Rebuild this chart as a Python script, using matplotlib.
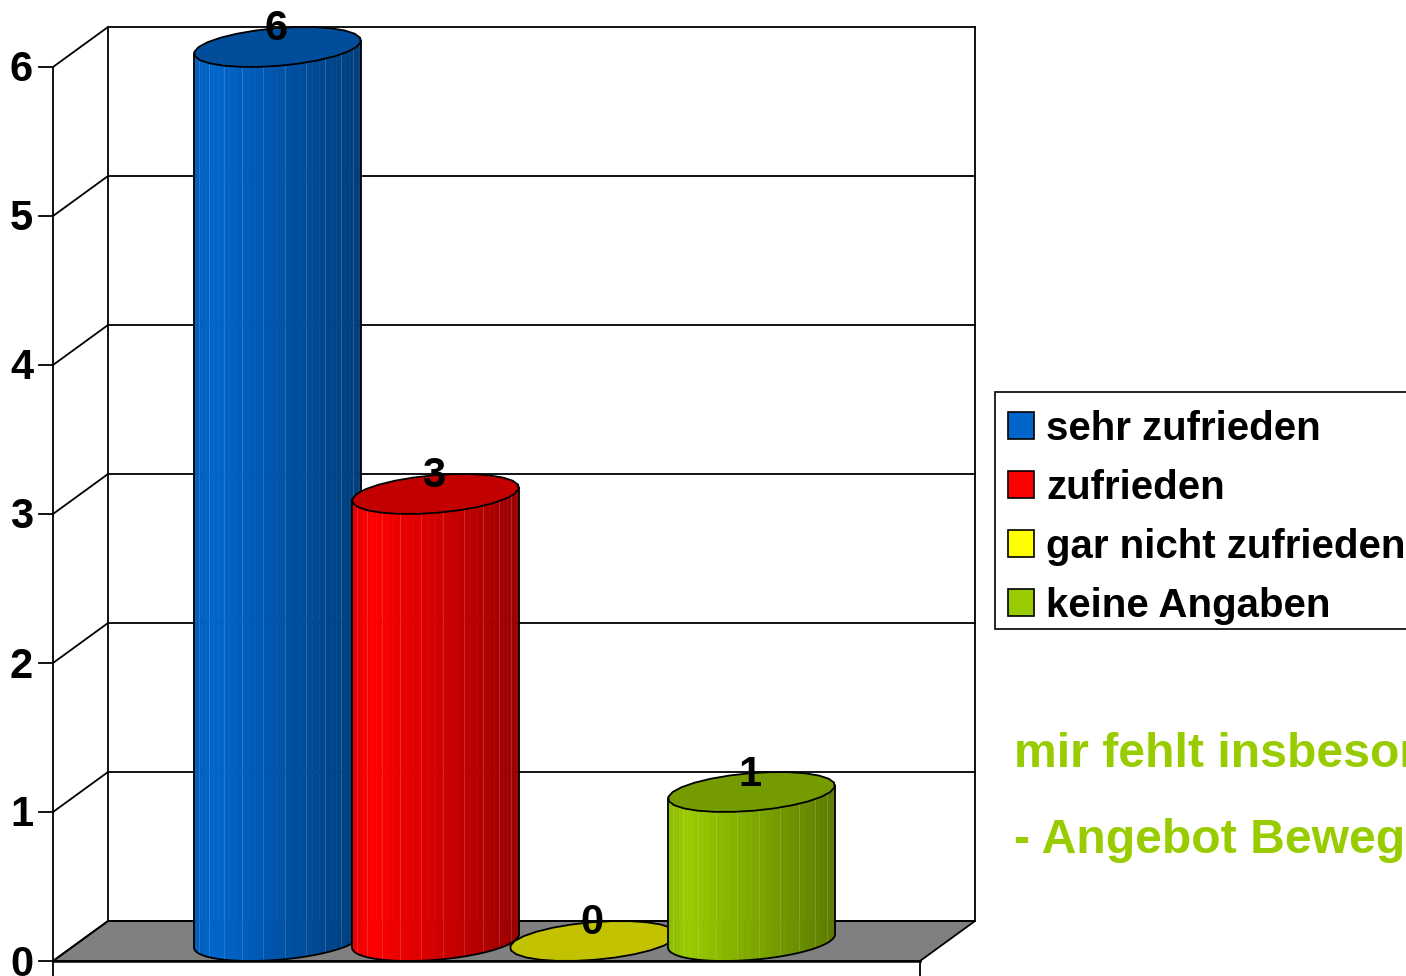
import numpy as np
import matplotlib
matplotlib.use('Agg')
import matplotlib.pyplot as plt
from matplotlib.patches import Patch, Polygon, Rectangle

# data
categories = ['sehr zufrieden', 'zufrieden', 'gar nicht zufrieden', 'keine Angaben']
values = [6, 3, 0, 1]
colors = ['#0066CC', '#FF0000', '#FFFF00', '#99CC00']
y_ticks = [0, 1, 2, 3, 4, 5, 6]
note_lines = ['mir fehlt insbesondere', '- Angebot Bewegung']

plt.rcParams['font.family'] = ['Liberation Sans', 'DejaVu Sans']

W, H = 1406, 976
PX_X = 158.0      # pixels per category
PX_Y = 149.0      # pixels per value unit
ZERO_X = 250.0    # pixel x of first category on front plane
ZERO_Y = 961.0    # pixel y of value 0 on front plane
DEPTH_X = 55.0 / PX_X
DEPTH_Y = 40.0 / PX_Y
RADIUS = 0.499

fig = plt.figure(figsize=(W / 100, H / 100), dpi=100)
ax = fig.add_axes([0, 0, 1, 1])
ax.set_xlim(-ZERO_X / PX_X, (W - ZERO_X) / PX_X)
ax.set_ylim(-(H - ZERO_Y) / PX_Y, ZERO_Y / PX_Y)
ax.axis('off')

x_left = (53 - ZERO_X) / PX_X
x_right = (920 - ZERO_X) / PX_X
tick_len = 14 / PX_X
stub = (H - ZERO_Y) / PX_Y
LW = 1.3

# floor
ax.add_patch(Polygon([(x_left, 0), (x_right, 0), (x_right + DEPTH_X, DEPTH_Y), (x_left + DEPTH_X, DEPTH_Y)],
                     facecolor='#808080', edgecolor='black', lw=LW, zorder=1))

# walls and gridlines
top = max(y_ticks)
ax.plot([x_left, x_left], [-stub, top], color='black', lw=LW, zorder=2)
ax.plot([x_right, x_right], [-stub, 0], color='black', lw=LW, zorder=2)
ax.plot([x_left + DEPTH_X] * 2, [DEPTH_Y, top + DEPTH_Y], color='black', lw=LW, zorder=2)
ax.plot([x_right + DEPTH_X] * 2, [DEPTH_Y, top + DEPTH_Y], color='black', lw=LW, zorder=2)
for v in y_ticks:
    ax.plot([x_left - tick_len, x_left], [v, v], color='black', lw=LW, zorder=2)
    ax.plot([x_left, x_left + DEPTH_X], [v, v + DEPTH_Y], color='black', lw=LW, zorder=2)
    ax.plot([x_left + DEPTH_X, x_right + DEPTH_X], [v + DEPTH_Y] * 2, color='black', lw=LW, zorder=2)
    ax.text(x_left - 20 / PX_X, v + 1 / PX_Y, str(v), ha='right', va='center_baseline', fontsize=30,
            fontweight='bold', color='black', zorder=10)


def rim(cx, cy, t):
    # point on the rim of a bar: a circle lying in the floor plane
    px = cx + DEPTH_X / 2 + RADIUS * np.cos(t) + DEPTH_X / 2 * np.sin(t)
    py = cy + DEPTH_Y / 2 * np.sin(t)
    return px, py


theta = np.arctan2(DEPTH_X / 2, RADIUS)
for i, (val, col) in enumerate(zip(values, colors)):
    cx = i
    cy = DEPTH_Y / 2
    base = np.array(matplotlib.colors.to_rgb(col))
    z = 3 + i
    if val > 0:
        t = np.linspace(theta + np.pi, theta + 2 * np.pi, 37)
        xs, ys = rim(cx, cy, t)
        # shaded facets of the front of the bar
        for k in range(len(t) - 1):
            u = ((xs[k] + xs[k + 1]) / 2 - xs[0]) / (xs[-1] - xs[0])
            shade = np.interp(u, [0, 0.12, 1], [0.92, 1.0, 0.6])
            ax.add_patch(Polygon([(xs[k], ys[k]), (xs[k + 1], ys[k + 1]),
                                  (xs[k + 1], ys[k + 1] + val), (xs[k], ys[k] + val)],
                                 facecolor=base * shade, edgecolor=base * shade, lw=0.4, zorder=z))
            if k % 3 == 1:
                ax.plot([xs[k], xs[k]], [ys[k], ys[k] + val], color='white', alpha=0.15, lw=0.7, zorder=z)
        # outline of the bar body
        ax.plot(np.r_[xs[0], xs, xs[-1]], np.r_[ys[0] + val, ys, ys[-1] + val],
                color='black', lw=LW, zorder=z)
    # top face
    t = np.linspace(0, 2 * np.pi, 27)
    xs, ys = rim(cx, cy + val, t)
    ax.add_patch(Polygon(np.c_[xs, ys], closed=True, facecolor=base * 0.76, edgecolor='black', lw=LW, zorder=z))
    ax.text(cx + DEPTH_X / 2 - 1.5 / PX_X, val + DEPTH_Y + 2 / PX_Y, str(val), ha='center', va='center_baseline',
            fontsize=30, fontweight='bold', color='black', zorder=10)

# front edge of the floor over the bars
ax.plot([x_left, x_right], [0, 0], color='black', lw=1.8, zorder=9)

# legend box runs past the right edge of the picture
fig.add_artist(Rectangle((995 / W, 1 - 629 / H), 440 / W, 237 / H, transform=fig.transFigure,
                         facecolor='white', edgecolor='black', lw=1.2))
handles = [Patch(facecolor=c, edgecolor='black', lw=1.2) for c in colors]
leg = fig.legend(handles, categories, loc='upper left', bbox_to_anchor=(995 / W, 1 - 397 / H),
                 borderaxespad=0, prop={'weight': 'bold', 'size': 29}, frameon=False,
                 handlelength=0.645, handleheight=0.645, handletextpad=0.3, labelspacing=0.52,
                 borderpad=0.32)
leg.set_zorder(5)

fig.text(1014 / W, 1 - 767 / H, note_lines[0], color='#99CC00', fontsize=34.7, fontweight='bold')
fig.text(1014 / W, 1 - 853 / H, note_lines[1], color='#99CC00', fontsize=34.7, fontweight='bold')

fig.savefig('out.png', dpi=100, facecolor='white')
